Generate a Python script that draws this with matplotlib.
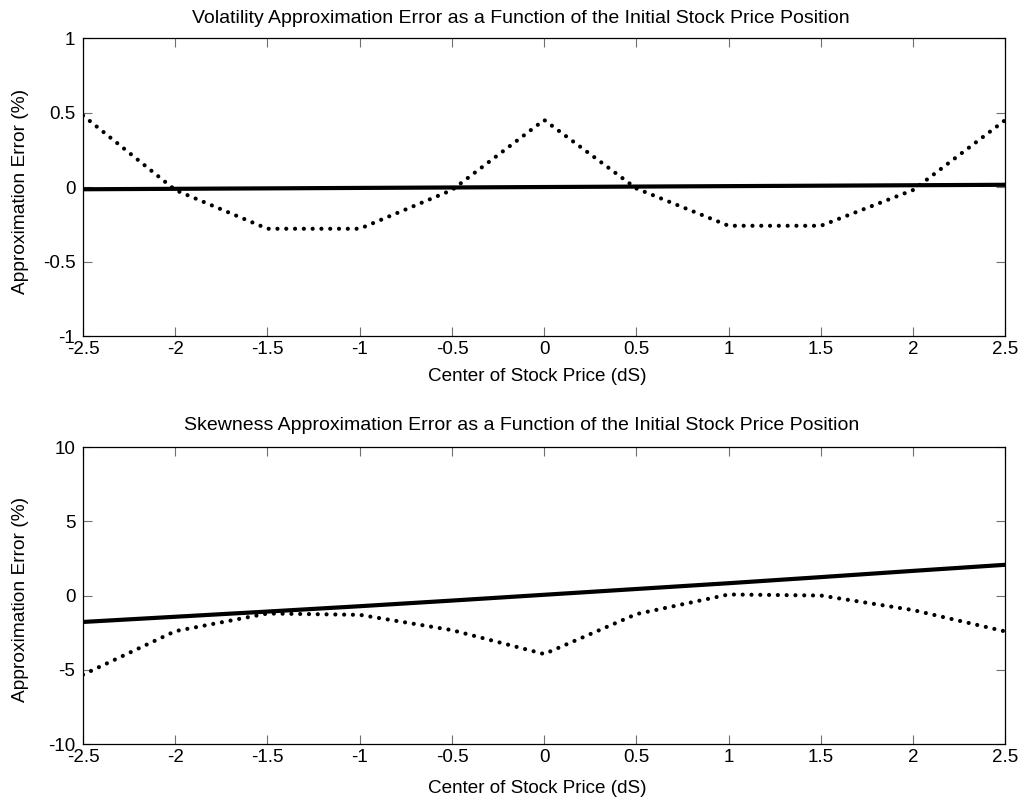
import matplotlib
matplotlib.use("Agg")
import matplotlib.pyplot as plt

# center of stock price (dS)
ds = [-2.5, -2.0, -1.5, -1.0, -0.5, 0.0, 0.5, 1.0, 1.5, 2.0, 2.5]

# volatility approximation error (%)
vol_solid = [-0.015, -0.012, -0.009, -0.006, -0.003, 0.0, 0.003, 0.006, 0.009, 0.012, 0.015]
vol_dotted = [0.48, -0.02, -0.28, -0.28, -0.02, 0.45, -0.01, -0.26, -0.26, -0.02, 0.45]

# skewness approximation error (%)
skew_solid = [-1.78, -1.43, -1.08, -0.72, -0.34, 0.05, 0.44, 0.83, 1.24, 1.66, 2.07]
skew_dotted = [-5.33, -2.40, -1.21, -1.30, -2.33, -3.94, -1.25, 0.07, 0.0, -0.98, -2.42]

x_ticks = [-2.5, -2, -1.5, -1, -0.5, 0, 0.5, 1, 1.5, 2, 2.5]
x_ticklabels = ["-2.5", "-2", "-1.5", "-1", "-0.5", "0", "0.5", "1", "1.5", "2", "2.5"]
vol_yticks = [-1, -0.5, 0, 0.5, 1]
vol_yticklabels = ["-1", "-0.5", "0", "0.5", "1"]
skew_yticks = [-10, -5, 0, 5, 10]
skew_yticklabels = ["-10", "-5", "0", "5", "10"]

titles = ["Volatility Approximation Error as a Function of the Initial Stock Price Position",
          "Skewness Approximation Error as a Function of the Initial Stock Price Position"]

plt.rcParams["font.family"] = ["Liberation Sans", "DejaVu Sans"]
plt.rcParams["font.size"] = 13.5

fig = plt.figure(figsize=(10.26, 8.02), dpi=100)
ax1 = fig.add_axes([0.0809, 0.581, 0.899, 0.3716])
ax2 = fig.add_axes([0.0809, 0.0723, 0.899, 0.3703])


def setup(ax, solid, dotted, yticks, yticklabels, ylim, title, title_pad, xlab_y):
    ax.plot(ds, solid, color="black", linewidth=3.0, solid_capstyle="butt")
    ax.plot(ds, dotted, color="black", linewidth=3.0,
            linestyle=(0, (0.01, 2.1)), dash_capstyle="round")
    ax.set_xlim(-2.5, 2.5)
    ax.set_ylim(*ylim)
    ax.set_xticks(x_ticks)
    ax.set_xticklabels(x_ticklabels)
    ax.set_yticks(yticks)
    ax.set_yticklabels(yticklabels)
    ax.tick_params(direction="in", length=6.5, width=0.8, color="#707070",
                   top=True, right=True, labelsize=13.5)
    ax.tick_params(axis="x", pad=3.5)
    ax.tick_params(axis="y", pad=5.5)
    for sp in ax.spines.values():
        sp.set_linewidth(0.9)
        sp.set_color("black")
    ax.set_title(title, fontsize=14, x=0.475, pad=title_pad)
    ax.set_xlabel("Center of Stock Price (dS)", fontsize=13.6)
    ax.xaxis.set_label_coords(0.492, xlab_y)
    ax.set_ylabel("Approximation Error (%)", fontsize=13.8)
    ax.yaxis.set_label_coords(-0.0585, 0.486)


setup(ax1, vol_solid, vol_dotted, vol_yticks, vol_yticklabels, (-1, 1), titles[0], 11, -0.106)
setup(ax2, skew_solid, skew_dotted, skew_yticks, skew_yticklabels, (-10, 10), titles[1], 12, -0.12)

fig.savefig("out.png", dpi=100)
